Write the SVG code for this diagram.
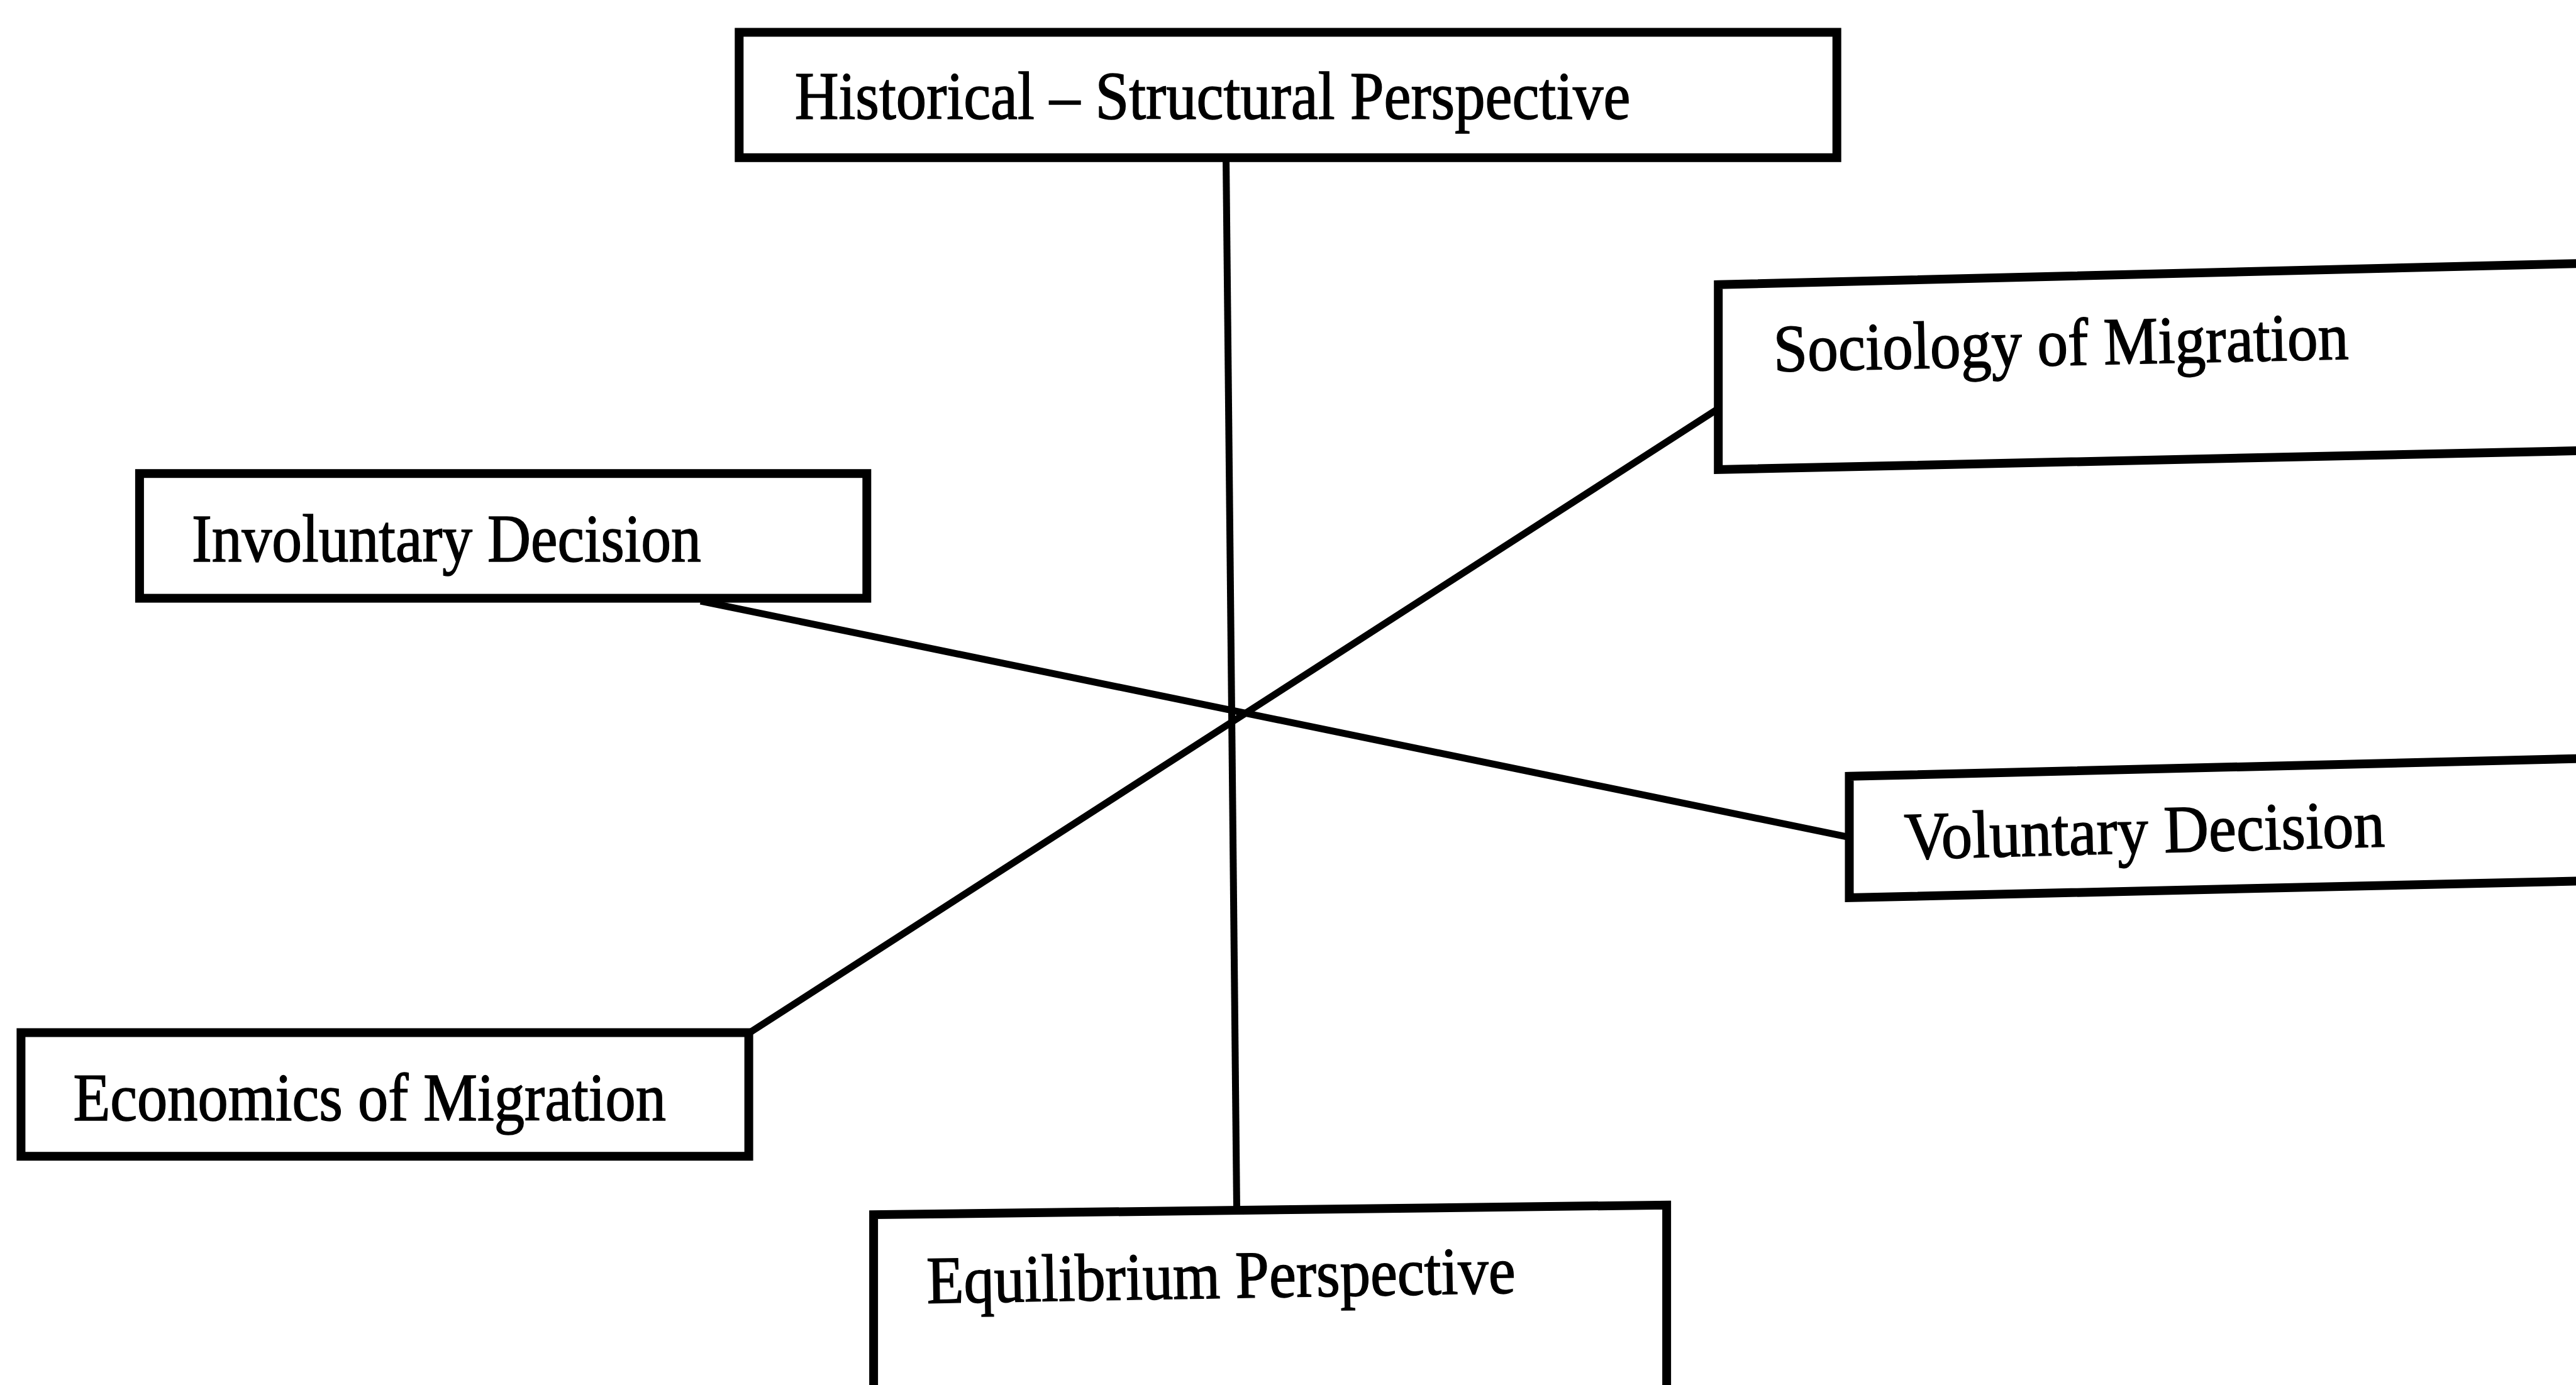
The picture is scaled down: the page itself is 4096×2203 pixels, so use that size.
<svg xmlns="http://www.w3.org/2000/svg" width="4096" height="2203" viewBox="0 0 4096 2203">
<style>
.box{fill:#fff;stroke:#000;stroke-width:14;stroke-linejoin:miter}
.lbl{font-family:"Liberation Serif","Times New Roman",serif;font-size:107px;fill:#000;stroke:#000;stroke-width:1.6}
.conn line{stroke:#000;stroke-width:11;stroke-linecap:butt}
</style>
<rect width="4096" height="2203" fill="#fff"/>
<g id="connectors" class="conn">
<line x1="1949.5" y1="251" x2="1966.5" y2="1922"/>
<line x1="1114" y1="956" x2="2938.7" y2="1331.4"/>
<line x1="1190.6" y1="1643.4" x2="2730.4" y2="651.2"/>
</g>
<g id="historical">
<rect class="box" x="1175.3" y="51.4" width="1745.4" height="199.4"/>
<text class="lbl" x="1263.7" y="189.4" textLength="1328.6" lengthAdjust="spacingAndGlyphs">Historical – Structural Perspective</text>
</g>
<g id="sociology">
<polygon class="box" points="2732.2,452.8 4110,418.9 4110,716.7 2732.2,746.9"/>
<text class="lbl" x="2820.6" y="590.8" textLength="914.6" lengthAdjust="spacingAndGlyphs" transform="rotate(-1.24 2820.6 590.8)">Sociology of Migration</text>
</g>
<g id="involuntary">
<rect class="box" x="221.9" y="753.2" width="1156.4" height="198.4"/>
<text class="lbl" x="304.9" y="893" textLength="810" lengthAdjust="spacingAndGlyphs">Involuntary Decision</text>
</g>
<g id="voluntary">
<polygon class="box" points="2940.5,1234.8 4110,1206.5 4110,1401.2 2940.5,1427.9"/>
<text class="lbl" x="3028.9" y="1366.5" textLength="764" lengthAdjust="spacingAndGlyphs" transform="rotate(-1.5 3028.9 1366.5)">Voluntary Decision</text>
</g>
<g id="economics">
<rect class="box" x="33.4" y="1642.5" width="1157.2" height="196.7"/>
<text class="lbl" x="116.4" y="1781.5" textLength="942.6" lengthAdjust="spacingAndGlyphs">Economics of Migration</text>
</g>
<g id="equilibrium">
<polygon class="box" points="1389.1,2240 1389.1,1932.1 2650.1,1916.8 2650.1,2240"/>
<text class="lbl" x="1473.9" y="2072.8" textLength="936.3" lengthAdjust="spacingAndGlyphs" transform="rotate(-1 1473.9 2072.8)">Equilibrium Perspective</text>
</g>
</svg>
